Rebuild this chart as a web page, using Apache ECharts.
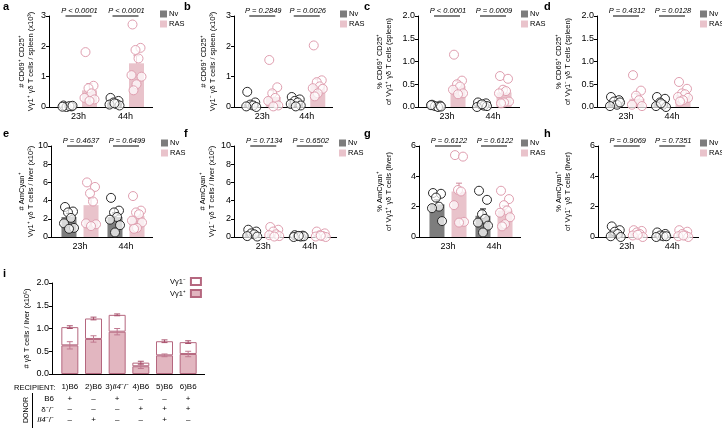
<!DOCTYPE html>
<html><head><meta charset="utf-8">
<script src="https://cdn.jsdelivr.net/npm/echarts@6/dist/echarts.min.js"></script>
<style>html,body{margin:0;padding:0;background:#fff}#c{width:722px;height:428px}</style>
</head><body><div id="c"></div><script>
// ---------- DATA ----------
const timepoints = ['23h', '44h'];

// a
const aNvPts = [[0.05,0.02,0.0,0.03,0.01,0.04],[0.30,0.20,0.15,0.10,0.08,0.05,0.12]];
const aRasPts = [[1.81,0.70,0.62,0.45,0.30,0.25,0.20],[2.72,1.95,1.88,1.60,1.05,1.00,0.75,0.55]];
const aNvMean = [0.02,0.14], aNvSem = [0.01,0.04], aRasMean = [0.55,1.44], aRasSem = [0.22,0.25];
const aP = ['P < 0.0001','P < 0.0001'];
const aTicks = [0,1,2,3];
// b
const bNvPts = [[0.50,0.15,0.08,0.05,0.02,0.0],[0.33,0.25,0.20,0.15,0.10,0.05,0.02]];
const bRasPts = [[1.55,0.65,0.45,0.30,0.20,0.05,0.02],[2.03,0.88,0.82,0.68,0.62,0.60,0.45,0.35]];
const bNvMean = [0.10,0.15], bNvSem = [0.07,0.04], bRasMean = [0.33,0.73], bRasSem = [0.21,0.19];
const bP = ['P = 0.2849','P = 0.0026'];
const bTicks = [0,1,2,3];
// c
const cNvPts = [[0.05,0.03,0.02,0.0,0.04,0.01],[0.10,0.08,0.05,0.03,0.0,0.02,0.06]];
const cRasPts = [[1.15,0.58,0.50,0.45,0.38,0.30,0.28],[0.68,0.62,0.38,0.35,0.30,0.12,0.10,0.08]];
const cNvMean = [0.03,0.05], cNvSem = [0.01,0.015], cRasMean = [0.46,0.32], cRasSem = [0.11,0.08];
const cP = ['P < 0.0001','P = 0.0009'];
const cTicks = [0,0.5,1,1.5,2];
// d
const dNvPts = [[0.22,0.15,0.12,0.05,0.02,0.10],[0.22,0.18,0.10,0.05,0.02,0.0,0.08]];
const dRasPts = [[0.70,0.36,0.25,0.15,0.05,0.02],[0.55,0.40,0.30,0.28,0.22,0.20,0.15,0.12]];
const dNvMean = [0.11,0.09], dNvSem = [0.03,0.03], dRasMean = [0.18,0.27], dRasSem = [0.11,0.05];
const dP = ['P = 0.4312','P = 0.0128'];
const dTicks = [0,0.5,1,1.5,2];
// e
const eNvPts = [[3.3,2.8,2.7,2.1,1.5,1.0,0.9],[4.3,2.9,2.7,2.2,1.9,1.3,0.5]];
const eRasPts = [[6.0,5.5,4.8,3.9,1.5,1.4,1.2],[4.5,2.9,2.7,2.5,1.8,1.6,1.0,0.9]];
const eNvMean = [2.2,2.2], eNvSem = [0.4,0.45], eRasMean = [3.5,2.3], eRasSem = [0.75,0.45];
const eP = ['P = 0.4637','P = 0.6499'];
const eTicks = [0,2,4,6,8,10];
// f
const fNvPts = [[0.8,0.6,0.4,0.3,0.1,0.05],[0.2,0.15,0.1,0.05,0.0,0.08,0.12]];
const fRasPts = [[1.1,0.8,0.6,0.3,0.2,0.1,0.05],[0.6,0.4,0.2,0.1,0.05,0.0,0.15]];
const fNvMean = [0.35,0.1], fNvSem = [0.12,0.03], fRasMean = [0.45,0.2], fRasSem = [0.15,0.08];
const fP = ['P = 0.7134','P = 0.6502'];
const fTicks = [0,2,4,6,8,10];
// g
const gNvPts = [[2.9,2.85,2.6,2.0,1.9,1.05],[3.05,2.45,1.5,1.2,0.95,0.75,0.3]];
const gRasPts = [[5.4,5.3,3.1,3.0,2.1,1.0,0.95],[3.05,2.5,2.1,1.75,1.6,1.3,0.85,0.7]];
const gNvMean = [2.15,1.4], gNvSem = [0.3,0.45], gRasMean = [3.0,1.75], gRasSem = [0.55,0.3];
const gP = ['P = 0.6122','P = 0.6122'];
const gTicks = [0,2,4,6];
// h
const hNvPts = [[0.7,0.45,0.35,0.2,0.05,0.0],[0.3,0.2,0.1,0.05,0.0,0.05]];
const hRasPts = [[0.45,0.4,0.3,0.2,0.1,0.0,0.15],[0.45,0.35,0.2,0.1,0.05,0.0,0.1]];
const hNvMean = [0.3,0.1], hNvSem = [0.11,0.04], hRasMean = [0.2,0.16], hRasSem = [0.07,0.06];
const hP = ['P = 0.9069','P = 0.7351'];
const hTicks = [0,2,4,6];
// i
const iRecipients = ['1)B6','2)B6','3)Il4⁻/⁻','4)B6','5)B6','6)B6'];
const iPosMean = [0.63,0.77,0.93,0.17,0.41,0.44];
const iPosSem = [0.08,0.07,0.07,0.05,0.03,0.06];
const iTotalMean = [1.03,1.22,1.30,0.25,0.72,0.70];
const iTotalSem = [0.03,0.03,0.02,0.03,0.03,0.03];
const iTicks = [0,0.5,1,1.5,2];
const donorB6 = ['+','–','+','–','–','+'];
const donorDelta = ['–','–','–','+','+','+'];
const donorIl4 = ['–','+','–','–','+','–'];

// ---------- BUILD ----------
const FONT = '"Liberation Sans", Arial, sans-serif';
const NV_BAR = '#7d7d7d', RAS_BAR = '#e9c3cb', NV_PT = '#2a2a2a', RAS_PT = '#e09fb0', RAS_ERR = '#d08a9c';
const OFF = 11;
const JIT = [-4, 4, -1, 2, -5, 5, 0, -3, 3];
const grids = [], xAxes = [], yAxes = [], series = [], legends = [], graphics = [];

function dec(ticks){ return ticks.some(t => Math.round(t) !== t) ? 1 : 0; }

// rect = axis box [left, top, width, height]; pad = inner category padding [left, right]
function addPanel(letter, letterPos, rect, pad, ticks, name, nameGap, nvPts, rasPts, nvMean, nvSem, rasMean, rasSem, pTxt, legPos){
  const g = grids.length;
  grids.push({left:rect[0] + pad[0], top:rect[1], width:rect[2] - pad[0] - pad[1], height:rect[3], containLabel:false, outerBoundsMode:'none'});
  const xi = xAxes.length;
  xAxes.push({type:'category', gridIndex:g, data:timepoints,
    axisLine:{show:false},
    axisTick:{alignWithLabel:true, length:3, lineStyle:{color:'#000'}},
    axisLabel:{color:'#000', fontSize:9, margin:5, fontFamily:FONT, interval:0}});
  graphics.push({type:'line', shape:{x1:rect[0], y1:rect[1] + rect[3] + 0.5, x2:rect[0] + rect[2], y2:rect[1] + rect[3] + 0.5}, style:{stroke:'#000', lineWidth:1}, z:1});
  const yi = yAxes.length;
  const d = dec(ticks);
  yAxes.push({type:'value', gridIndex:g, min:ticks[0], max:ticks[ticks.length-1], interval:ticks[1]-ticks[0],
    offset:pad[0],
    splitLine:{show:false},
    axisLine:{show:true, lineStyle:{color:'#000'}},
    axisTick:{show:true, length:3, lineStyle:{color:'#000'}},
    axisLabel:{color:'#000', fontSize:9, margin:3, fontFamily:FONT, formatter:v => v.toFixed(d)},
    name:name, nameLocation:'middle', nameRotate:90, nameGap:nameGap, nameMoveOverlap:false,
    nameTextStyle:{fontSize:7.5, lineHeight:9, color:'#000', fontFamily:FONT}});
  const common = {xAxisIndex:xi, yAxisIndex:yi, silent:true, animation:false};
  series.push(Object.assign({type:'bar', name:'Nv', data:nvMean, barWidth:15, barGap:'47%', itemStyle:{color:NV_BAR}, z:2}, common));
  series.push(Object.assign({type:'bar', name:'RAS', data:rasMean, barWidth:15, barGap:'47%', itemStyle:{color:RAS_BAR}, z:2}, common));
  const errData = [];
  for (let t = 0; t < 2; t++){ errData.push([t, nvMean[t], nvSem[t], 0]); errData.push([t, rasMean[t], rasSem[t], 1]); }
  series.push(Object.assign({type:'custom', name:'err', data:errData, z:3, encode:{x:0, y:1},
    renderItem:(p, api) => {
      const t = api.value(0), m = api.value(1), s = api.value(2), gi = api.value(3);
      const b = api.coord([t, m]), tp = api.coord([t, m + s]);
      const x = b[0] + (gi ? OFF : -OFF);
      const col = gi ? RAS_ERR : '#111';
      return {type:'group', children:[
        {type:'line', shape:{x1:x, y1:b[1], x2:x, y2:tp[1]}, style:{stroke:col, lineWidth:1}},
        {type:'line', shape:{x1:x-3, y1:tp[1], x2:x+3, y2:tp[1]}, style:{stroke:col, lineWidth:1}}]};
    }}, common));
  const ptData = [];
  for (let t = 0; t < 2; t++){
    nvPts[t].forEach((v, k) => ptData.push([t, v, 0, k]));
    rasPts[t].forEach((v, k) => ptData.push([t, v, 1, k]));
  }
  series.push(Object.assign({type:'custom', name:'pts', data:ptData, z:4, encode:{x:0, y:1},
    renderItem:(p, api) => {
      const t = api.value(0), v = api.value(1), gi = api.value(2), k = api.value(3);
      const c = api.coord([t, v]);
      const x = c[0] + (gi ? OFF : -OFF) + JIT[k % JIT.length];
      return {type:'circle', shape:{cx:x, cy:c[1], r:4.5},
        style:{fill:'rgba(255,255,255,0.7)', stroke:gi ? RAS_PT : NV_PT, lineWidth:1}};
    }}, common));
  const ymax = ticks[ticks.length-1];
  series.push(Object.assign({type:'custom', name:'pval', data:[[0, ymax],[1, ymax]], z:5, encode:{x:0, y:1},
    renderItem:(p, api) => {
      const c = api.coord([api.value(0), api.value(1)]);
      return {type:'group', children:[
        {type:'line', shape:{x1:c[0]-13, y1:c[1], x2:c[0]+13, y2:c[1]}, style:{stroke:'#000', lineWidth:1}},
        {type:'text', x:c[0]+1, y:c[1]-1, style:{text:pTxt[p.dataIndex], fill:'#000',
          font:'italic 7.5px ' + FONT, textAlign:'center', textVerticalAlign:'bottom', align:'center', verticalAlign:'bottom'}}]};
    }}, common));
  legends.push({data:['Nv','RAS'], orient:'vertical', left:legPos[0], top:legPos[1], padding:0,
    itemWidth:7, itemHeight:7, itemGap:2, icon:'rect', selectedMode:false,
    textStyle:{fontSize:7.5, color:'#000', fontFamily:FONT, padding:[0,0,0,-3]}});
  graphics.push({type:'text', left:letterPos[0], top:letterPos[1], style:{text:letter, font:'bold 11px ' + FONT, fill:'#000'}});
}

const PAD = [6, 4];
addPanel('a', [3,1], [49,16,104,91], PAD, aTicks, '# CD69⁺ CD25⁺\nVγ1⁺ γδ T cells / spleen (x10³)', 14, aNvPts, aRasPts, aNvMean, aNvSem, aRasMean, aRasSem, aP, [160,10]);
addPanel('b', [184,1], [234,16,99,91], PAD, bTicks, '# CD69⁺ CD25⁺\nVγ1⁻ γδ T cells / spleen (x10³)', 17, bNvPts, bRasPts, bNvMean, bNvSem, bRasMean, bRasSem, bP, [340,10]);
addPanel('c', [364,1], [418,16,102,91], PAD, cTicks, '% CD69⁺ CD25⁺\nof Vγ1⁺ γδ T cells (spleen)', 25, cNvPts, cRasPts, cNvMean, cNvSem, cRasMean, cRasSem, cP, [521,10]);
addPanel('d', [544,1], [597,16,102,91], PAD, dTicks, '% CD69⁺ CD25⁺\nof Vγ1⁻ γδ T cells (spleen)', 25, dNvPts, dRasPts, dNvMean, dNvSem, dRasMean, dRasSem, dP, [700,10]);
addPanel('e', [3,128], [51,146,102,91], PAD, eTicks, '# AmCyan⁺\nVγ1⁺ γδ T cells / liver (x10²)', 16, eNvPts, eRasPts, eNvMean, eNvSem, eRasMean, eRasSem, eP, [161,139]);
addPanel('f', [184,128], [234,146,103,91], PAD, fTicks, '# AmCyan⁺\nVγ1⁻ γδ T cells / liver (x10²)', 18, fNvPts, fRasPts, fNvMean, fNvSem, fRasMean, fRasSem, fP, [339,139]);
addPanel('g', [364,128], [419,146,102,91], PAD, gTicks, '% AmCyan⁺\nof Vγ1⁺ γδ T cells (liver)', 26, gNvPts, gRasPts, gNvMean, gNvSem, gRasMean, gRasSem, gP, [521,139]);
addPanel('h', [544,128], [598,146,101,91], PAD, hTicks, '% AmCyan⁺\nof Vγ1⁻ γδ T cells (liver)', 26, hNvPts, hRasPts, hNvMean, hNvSem, hRasMean, hRasSem, hP, [700,139]);

// panel i
(function(){
  const axL = 52, axT = 283, axW = 153, axH = 91, padL = 6, padR = 5;
  const g = grids.length;
  grids.push({left:axL + padL, top:axT, width:axW - padL - padR, height:axH, containLabel:false, outerBoundsMode:'none'});
  graphics.push({type:'line', shape:{x1:axL, y1:axT + axH + 0.5, x2:axL + axW, y2:axT + axH + 0.5}, style:{stroke:'#000', lineWidth:1}, z:1});
  const xi = xAxes.length;
  xAxes.push({type:'category', gridIndex:g, data:iRecipients,
    axisLine:{show:false},
    axisTick:{alignWithLabel:true, length:3, lineStyle:{color:'#000'}},
    axisLabel:{color:'#000', fontSize:8, margin:9, fontFamily:FONT, interval:0,
      formatter:v => v.replace('Il4', '{i|Il4}'),
      rich:{i:{fontStyle:'italic', fontSize:8, fontFamily:FONT, color:'#000'}}}});
  [[donorB6, 12.5], [donorDelta, 23], [donorIl4, 33.5]].forEach(([row, off]) => {
    xAxes.push({type:'category', gridIndex:g, data:row, position:'bottom', offset:off,
      axisLine:{show:false}, axisTick:{show:false},
      axisLabel:{color:'#000', fontSize:8, margin:8, fontFamily:FONT, interval:0}});
  });
  const yi = yAxes.length;
  yAxes.push({type:'value', gridIndex:g, min:iTicks[0], max:iTicks[iTicks.length-1], interval:iTicks[1]-iTicks[0],
    offset:padL,
    splitLine:{show:false},
    axisLine:{show:true, lineStyle:{color:'#000'}},
    axisTick:{show:true, length:3, lineStyle:{color:'#000'}},
    axisLabel:{color:'#000', fontSize:9, margin:3, fontFamily:FONT, formatter:v => v.toFixed(1)},
    name:'# γδ T cells / liver (x10⁵)', nameLocation:'middle', nameRotate:90, nameGap:21, nameMoveOverlap:false,
    nameTextStyle:{fontSize:7.5, color:'#000', fontFamily:FONT}});
  const common = {xAxisIndex:xi, yAxisIndex:yi, silent:true, animation:false};
  const negSeg = iTotalMean.map((t, k) => +(t - iPosMean[k]).toFixed(3));
  series.push(Object.assign({type:'bar', name:'Vγ1⁺', stack:'i', data:iPosMean, barWidth:17,
    itemStyle:{color:'#e2b6c0', borderColor:'#b5677f', borderWidth:1}, z:2}, common));
  series.push(Object.assign({type:'bar', name:'Vγ1⁻', stack:'i', data:negSeg, barWidth:17,
    itemStyle:{color:'#ffffff', borderColor:'#b5677f', borderWidth:1}, z:2}, common));
  const errData = [];
  iPosMean.forEach((m, k) => errData.push([k, m, iPosSem[k], 0]));
  iTotalMean.forEach((m, k) => errData.push([k, m, iTotalSem[k], 1]));
  series.push(Object.assign({type:'custom', name:'ierr', data:errData, z:3, encode:{x:0, y:1},
    renderItem:(p, api) => {
      const k = api.value(0), m = api.value(1), s = api.value(2), w = api.value(3);
      const lo = api.coord([k, m - s]), hi = api.coord([k, m + s]);
      const col = w ? '#a8506c' : '#c07990';
      const x = lo[0];
      return {type:'group', children:[
        {type:'line', shape:{x1:x, y1:lo[1], x2:x, y2:hi[1]}, style:{stroke:col, lineWidth:1}},
        {type:'line', shape:{x1:x-3, y1:lo[1], x2:x+3, y2:lo[1]}, style:{stroke:col, lineWidth:1}},
        {type:'line', shape:{x1:x-3, y1:hi[1], x2:x+3, y2:hi[1]}, style:{stroke:col, lineWidth:1}}]};
    }}, common));
  legends.push({data:['Vγ1⁻','Vγ1⁺'], orient:'vertical', left:170, top:277, padding:0, align:'right',
    itemWidth:10, itemHeight:7, itemGap:3, icon:'rect', selectedMode:false,
    textStyle:{fontSize:7.5, color:'#000', fontFamily:FONT}});
  graphics.push({type:'text', left:3, top:268, style:{text:'i', font:'bold 11px ' + FONT, fill:'#000'}});
  graphics.push({type:'text', x:14, y:388, style:{text:'RECIPIENT:', font:'7.5px ' + FONT, fill:'#000', textVerticalAlign:'middle', verticalAlign:'middle'}});
  const rowY = [399, 409.5, 420];
  const rowTxt = ['B6', 'δ⁻/⁻', '{i|Il4}⁻/⁻'];
  rowTxt.forEach((t, k) => graphics.push({type:'text', x:54, y:rowY[k], style:{text:t, font:'8px ' + FONT, fill:'#000',
    textAlign:'right', align:'right', textVerticalAlign:'middle', verticalAlign:'middle',
    rich:{i:{fontStyle:'italic', fontSize:8, fontFamily:FONT, fill:'#000'}}}}));
  graphics.push({type:'text', x:26, y:410, rotation:Math.PI/2, style:{text:'DONOR', font:'7px ' + FONT, fill:'#000',
    textAlign:'center', align:'center', textVerticalAlign:'middle', verticalAlign:'middle'}});
  graphics.push({type:'line', shape:{x1:32.5, y1:393, x2:32.5, y2:428}, style:{stroke:'#000', lineWidth:1}});
})();

const chart = echarts.init(document.getElementById('c'), null, {renderer:'canvas'});
chart.setOption({
  animation:false,
  backgroundColor:'#fff',
  textStyle:{fontFamily:FONT},
  grid:grids, xAxis:xAxes, yAxis:yAxes, series:series, legend:legends, graphic:graphics
});
</script></body></html>
